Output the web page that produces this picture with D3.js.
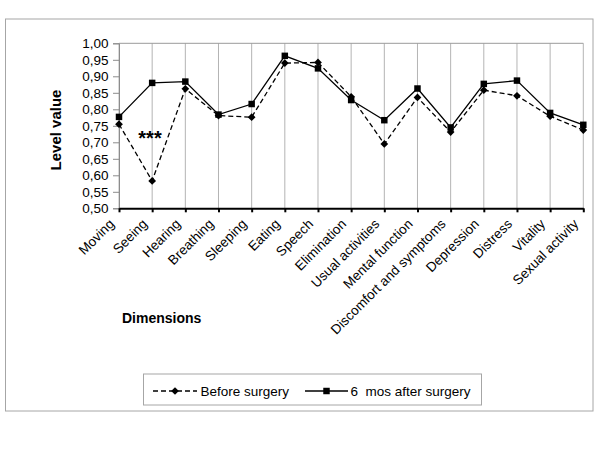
<!DOCTYPE html>
<html>
<head>
<meta charset="utf-8">
<script src="https://cdn.jsdelivr.net/npm/d3@7"></script>
<style>
  body { margin: 0; background: #fff; }
  text { font-family: "Liberation Sans", Arial, sans-serif; fill: #000; }
</style>
</head>
<body>
<div id="chart"></div>
<script>
// categories and series
var dimensions = ["Moving", "Seeing", "Hearing", "Breathing", "Sleeping", "Eating", "Speech",
  "Elimination", "Usual activities", "Mental function", "Discomfort and symptoms",
  "Depression", "Distress", "Vitality", "Sexual activity"];
var beforeSurgery = [0.755, 0.583, 0.862, 0.781, 0.776, 0.940, 0.942, 0.838, 0.695, 0.836, 0.731, 0.858, 0.841, 0.779, 0.737];
var afterSurgery  = [0.777, 0.880, 0.884, 0.784, 0.816, 0.962, 0.924, 0.828, 0.767, 0.863, 0.745, 0.877, 0.887, 0.789, 0.753];
var yTicks = [0.50, 0.55, 0.60, 0.65, 0.70, 0.75, 0.80, 0.85, 0.90, 0.95, 1.00];
var seriesNames = ["Before surgery", "6  mos after surgery"];

var svg = d3.select("#chart").append("svg")
  .attr("width", 600)
  .attr("height", 450);

var plot = { left: 119, right: 583.3, top: 43.3, bottom: 208.3 };

// outer frame
svg.append("rect")
  .attr("x", 5.5).attr("y", 19)
  .attr("width", 587.5).attr("height", 392)
  .attr("fill", "none").attr("stroke", "#a6a6a6");

var x = d3.scalePoint().domain(dimensions).range([plot.left, plot.right]);
var y = d3.scaleLinear().domain([0.5, 1]).range([plot.bottom, plot.top]);

var fmt = d3.formatLocale({ decimal: ",", thousands: ".", grouping: [3], currency: ["", ""] }).format(".2f");

// vertical gridlines
svg.append("g").selectAll("line")
  .data(dimensions)
  .enter().append("line")
  .attr("x1", d => x(d)).attr("x2", d => x(d))
  .attr("y1", plot.top).attr("y2", plot.bottom)
  .attr("stroke", "#b4b4b4").attr("stroke-width", 1);

// top border of plot area
svg.append("line")
  .attr("x1", plot.left).attr("x2", plot.right)
  .attr("y1", plot.top).attr("y2", plot.top)
  .attr("stroke", "#9a9a9a");

// y axis
var yAxis = svg.append("g")
  .attr("transform", `translate(${plot.left},0)`)
  .call(d3.axisLeft(y).tickValues(yTicks).tickFormat(fmt).tickSize(6).tickPadding(4.5));
yAxis.select(".domain").attr("stroke", "#8c8c8c");
yAxis.selectAll(".tick line").attr("stroke", "#8c8c8c");
yAxis.selectAll("text")
  .style("font-family", "'Liberation Sans', Arial, sans-serif")
  .style("font-size", "13.5px")
  .attr("fill", "#000");

// x axis
var xAxis = svg.append("g")
  .attr("transform", `translate(0,${plot.bottom})`)
  .call(d3.axisBottom(x).tickSize(4).tickSizeOuter(0));
xAxis.select(".domain").attr("stroke", "#000").attr("stroke-width", 2);
xAxis.selectAll(".tick line").attr("stroke", "#000").attr("stroke-width", 2);
xAxis.selectAll("text")
  .style("font-family", "'Liberation Sans', Arial, sans-serif")
  .style("font-size", "13.5px")
  .attr("fill", "#000")
  .attr("text-anchor", "end")
  .attr("dy", null)
  .attr("y", null)
  .attr("transform", "translate(-4.5,16.5) rotate(-45)");

// series lines
var line = d3.line()
  .x((d, i) => x(dimensions[i]))
  .y(d => y(d));

svg.append("path")
  .datum(beforeSurgery)
  .attr("d", line)
  .attr("fill", "none")
  .attr("stroke", "#000")
  .attr("stroke-width", 1.3)
  .attr("stroke-dasharray", "5,3");

svg.append("path")
  .datum(afterSurgery)
  .attr("d", line)
  .attr("fill", "none")
  .attr("stroke", "#000")
  .attr("stroke-width", 1.3);

var diamond = d3.symbol().type(d3.symbolSquare).size(30);
var square = d3.symbol().type(d3.symbolSquare).size(42);

svg.append("g").selectAll("path")
  .data(beforeSurgery)
  .enter().append("path")
  .attr("d", diamond)
  .attr("transform", (d, i) => `translate(${x(dimensions[i])},${y(d)}) rotate(45)`)
  .attr("fill", "#000");

svg.append("g").selectAll("path")
  .data(afterSurgery)
  .enter().append("path")
  .attr("d", square)
  .attr("transform", (d, i) => `translate(${x(dimensions[i])},${y(d)})`)
  .attr("fill", "#000");

// significance mark
svg.append("text")
  .attr("x", 150).attr("y", 145)
  .attr("text-anchor", "middle")
  .style("font-size", "20px")
  .style("font-weight", "bold")
  .text("***");

// axis titles
svg.append("text")
  .attr("transform", "translate(61,130) rotate(-90)")
  .attr("text-anchor", "middle")
  .style("font-size", "15px")
  .style("font-weight", "bold")
  .text("Level value");

svg.append("text")
  .attr("x", 122).attr("y", 323)
  .style("font-size", "14px")
  .style("font-weight", "bold")
  .text("Dimensions");

// legend
var legend = svg.append("g");
legend.append("rect")
  .attr("x", 143.5).attr("y", 374)
  .attr("width", 338).attr("height", 31)
  .attr("fill", "none").attr("stroke", "#a6a6a6");

var legendItems = [
  { name: seriesNames[0], x0: 153, x1: 197, dash: "5,3", sym: diamond, rot: 45, tx: 200.5 },
  { name: seriesNames[1], x0: 305, x1: 348, dash: null, sym: square, rot: 0, tx: 350.5 }
];
legendItems.forEach(function(it) {
  legend.append("line")
    .attr("x1", it.x0).attr("x2", it.x1)
    .attr("y1", 391).attr("y2", 391)
    .attr("stroke", "#000").attr("stroke-width", 1.3)
    .attr("stroke-dasharray", it.dash);
  legend.append("path")
    .attr("d", it.sym)
    .attr("transform", `translate(${(it.x0 + it.x1) / 2},391) rotate(${it.rot})`)
    .attr("fill", "#000");
  legend.append("text")
    .attr("x", it.tx).attr("y", 396)
    .style("font-size", "13.5px")
    .style("white-space", "pre")
    .attr("xml:space", "preserve")
    .text(it.name);
});
</script>
</body>
</html>
